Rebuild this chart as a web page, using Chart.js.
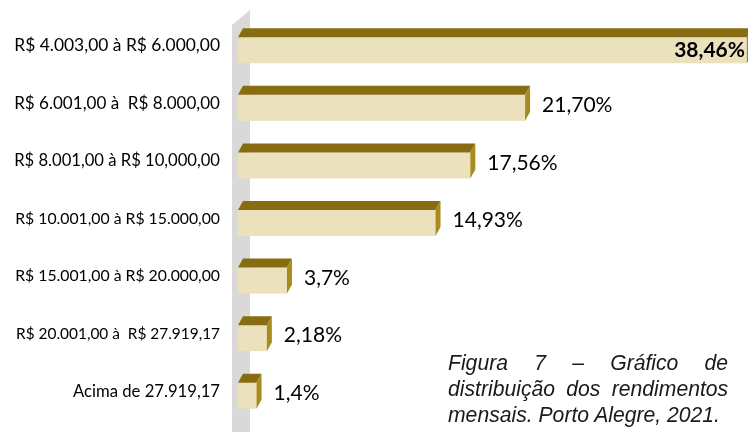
<!DOCTYPE html>
<html>
<head>
<meta charset="utf-8">
<script src="https://cdn.jsdelivr.net/npm/chart.js@4"></script>
<style>
  html, body { margin: 0; padding: 0; background: #fff; }
  #wrap { position: relative; width: 748px; height: 432px; overflow: hidden; }
  #caption {
    position: absolute; left: 448px; top: 350px; width: 298px;
    transform: scaleX(0.94); transform-origin: left top;
    font-family: "Liberation Sans", Arial, sans-serif;
    font-style: italic; font-size: 22.5px; line-height: 26px;
    color: #1a1a1a;
  }
  #caption div { text-align: justify; text-align-last: justify; white-space: nowrap; }
  #caption div.last { text-align-last: left; }
</style>
</head>
<body>
<div id="wrap">
  <canvas id="incomeChart" width="748" height="432"></canvas>
  <div id="caption">
    <div>Figura 7 – Gráfico de</div>
    <div>distribuição dos rendimentos</div>
    <div class="last">mensais. Porto Alegre, 2021.</div>
  </div>
</div>
<script>
const faixas = [
  'R$ 4.003,00 à R$ 6.000,00',
  'R$ 6.001,00 à  R$ 8.000,00',
  'R$ 8.001,00 à R$ 10,000,00',
  'R$ 10.001,00 à R$ 15.000,00',
  'R$ 15.001,00 à R$ 20.000,00',
  'R$ 20.001,00 à  R$ 27.919,17',
  'Acima de 27.919,17'
];
const percentuais = [38.46, 21.70, 17.56, 14.93, 3.7, 2.18, 1.4];
const rotulos = ['38,46%', '21,70%', '17,56%', '14,93%', '3,7%', '2,18%', '1,4%'];

const FONT = 'Lato, "Open Sans", sans-serif';
const depthX = 5;
const depthY = 9;

// width each axis label takes in the picture, font size is fitted to it
const larguras = [206, 206, 206, 205, 205, 204, 147];
const measure = document.createElement('canvas').getContext('2d');
const tamanhos = faixas.map((txt, i) => {
  measure.font = '20px ' + FONT;
  return 20 * larguras[i] / measure.measureText(txt).width;
});

// back wall + 3d boxes drawn from the bar elements
const box3d = {
  id: 'box3d',
  beforeDatasetsDraw(chart) {
    const c = chart.ctx;
    const area = chart.chartArea;
    c.save();
    c.fillStyle = '#d9d9d9';
    c.beginPath();
    c.moveTo(area.left - 6, 25);
    c.lineTo(area.left + 12, 10);
    c.lineTo(area.left + 12, 432);
    c.lineTo(area.left - 6, 432);
    c.closePath();
    c.fill();
    c.restore();
  },
  afterDatasetsDraw(chart) {
    const c = chart.ctx;
    const meta = chart.getDatasetMeta(0);
    c.save();
    meta.data.forEach((bar, i) => {
      const top = bar.y - bar.height / 2;
      const bottom = bar.y + bar.height / 2;
      const left = bar.base;
      const right = bar.x;
      const frontTop = top + depthY;

      // front
      c.fillStyle = '#ebe1bd';
      c.fillRect(left, frontTop, right - left, bottom - frontTop);
      // top
      c.fillStyle = '#876c12';
      c.beginPath();
      c.moveTo(left, frontTop);
      c.lineTo(left + depthX, top);
      c.lineTo(right + depthX, top);
      c.lineTo(right, frontTop);
      c.closePath();
      c.fill();
      // side
      c.fillStyle = '#a68c1f';
      c.beginPath();
      c.moveTo(right, frontTop);
      c.lineTo(right + depthX, top);
      c.lineTo(right + depthX, bottom - depthY);
      c.lineTo(right, bottom);
      c.closePath();
      c.fill();

      // value labels
      c.fillStyle = '#000';
      c.textBaseline = 'middle';
      if (i === 0) {
        c.font = 'bold 21px ' + FONT;
        c.textAlign = 'right';
        c.fillText(rotulos[i], 745, frontTop + (bottom - frontTop) / 2);
      } else {
        c.font = '21px ' + FONT;
        c.textAlign = 'left';
        c.fillText(rotulos[i], right + 17, bar.y + 2);
      }
    });
    c.restore();
  }
};

new Chart(document.getElementById('incomeChart'), {
  type: 'bar',
  data: {
    labels: faixas,
    datasets: [{
      data: percentuais,
      backgroundColor: 'rgba(0,0,0,0)',
      barThickness: 35
    }]
  },
  options: {
    indexAxis: 'y',
    responsive: false,
    animation: false,
    layout: { padding: { top: 17, bottom: 12, left: 0, right: 0 } },
    plugins: { legend: { display: false }, tooltip: { enabled: false } },
    scales: {
      x: { display: false, min: 0, max: 38.55 },
      y: {
        afterFit(scale) {
          scale.width = 238;
          scale.paddingTop = 0;
          scale.paddingBottom = 0;
        },
        grid: { display: false, drawTicks: false },
        border: { display: false },
        ticks: {
          color: '#000',
          padding: 18,
          font: (ctx) => ({ family: FONT, size: tamanhos[ctx.index] })
        }
      }
    }
  },
  plugins: [box3d]
});
</script>
</body>
</html>
